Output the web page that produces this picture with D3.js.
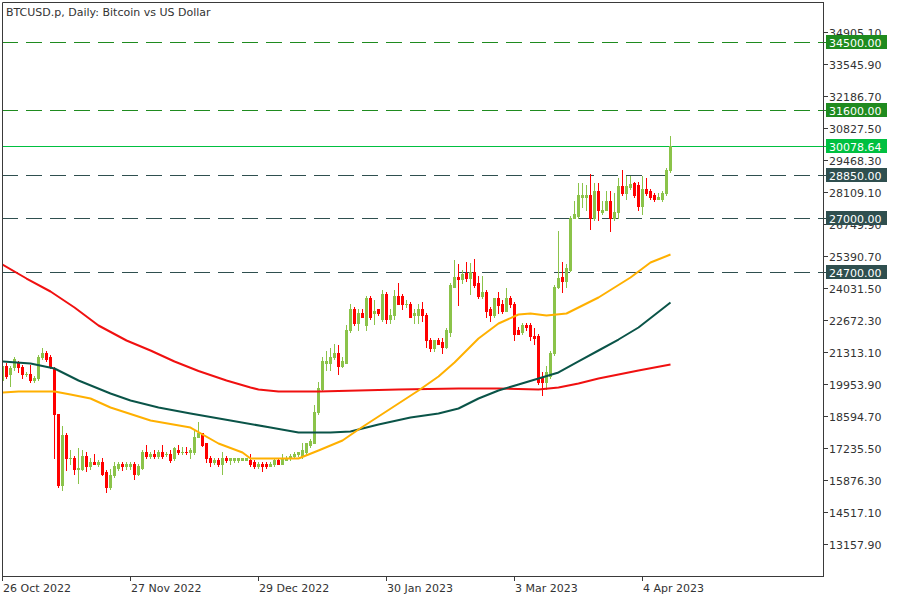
<!DOCTYPE html>
<html><head><meta charset="utf-8">
<script src="https://cdn.jsdelivr.net/npm/d3@7"></script>
<style>
body{margin:0;background:#fff}
svg{display:block}
text{font-family:"DejaVu Sans",sans-serif;font-size:11px}
</style>
</head><body>
<svg id="chart" width="900" height="600"></svg>
<script>
// ---- data (daily candles from 26 Oct 2022 to 11 Apr 2023) ----
const startDay = "2022-10-26";
const endDayExclusive = "2023-04-12";
const openP = [
20166,20719,20379,20676,20888,20676,20379,20421,20124,20209,
21101,21313,21101,20634,18680,15664,17830,16811,16811,16386,
16386,16896,16513,16683,16598,16683,16258,15579,16089,16428,
16598,16471,16471,16598,16173,16428,17108,16896,17023,16896,
17108,16981,17023,16811,17193,17066,17108,17066,17108,17745,
17873,17448,16853,16641,16768,16598,16853,16726,16768,16768,
16768,16768,16768,16683,16471,16598,16598,16513,16598,16768,
16598,16768,16853,16896,16981,16938,17066,17363,17490,18807,
19742,20888,20888,21143,21313,20719,20888,22248,23182,22545,
23012,22460,23607,23012,23140,22757,23777,22757,22885,23692,
23734,23352,23394,22885,22885,23182,22927,21865,21483,21865,
21738,21526,22205,24116,24541,24456,24711,24498,24753,24244,
23734,23862,23140,22885,23607,23394,23097,23607,23394,22248,
22163,22460,22460,22035,21993,20251,20081,20336,21271,24074,
24541,24371,24838,27047,27132,27939,27897,27982,27005,28152,
27260,27387,27769,27005,27260,28364,28067,28322,28492,28407,
27515,28279,28152,27982,27854,27854,28067,29044];
const highP = [
20804,20846,20719,21101,20973,20761,20506,20761,20336,21186,
21483,21356,21228,20676,18722,18212,17873,17151,16938,17236,
17193,17066,16811,16981,16768,16811,16343,16386,16683,16683,
16641,16683,16641,16641,16556,17151,17363,17108,17151,17193,
17405,17108,17151,17278,17363,17278,17278,17236,18085,18382,
17915,17490,16896,16853,16811,17066,16896,16853,16853,16853,
16853,16853,16981,16768,16683,16641,16641,16641,16811,16811,
17023,16896,17023,17066,17108,17448,17490,17618,19104,20039,
21101,21356,21483,21653,21611,21143,22460,23394,23225,23182,
23140,23734,23734,23522,23182,23947,23862,23182,23947,24286,
23819,23522,23479,23182,23394,23437,22970,21908,21865,21908,
21908,22333,24244,25263,25051,24838,25178,25135,25305,24583,
24583,23947,23225,23649,23862,23522,24032,23692,23437,22375,
22545,22587,22545,22333,22120,20464,20719,21356,24159,26495,
25178,25093,27132,27769,28492,28492,28407,28874,28492,28492,
27769,28194,28152,28109,28704,29044,28831,28831,28534,28534,
28789,28746,28237,28109,28109,28152,29129,30530];
const lowP = [
20081,20209,19911,20591,20506,20209,20294,20039,20039,20124,
21058,20973,20634,16811,15579,15452,16343,16598,16173,15749,
16343,16301,16386,16556,16513,16131,15409,15536,16046,16343,
16343,16386,16386,15961,16131,16386,16811,16811,16811,16853,
16811,16896,16641,16726,17023,17023,17023,16811,17023,17703,
17321,16641,16471,16598,16513,16173,16683,16556,16641,16683,
16726,16726,16513,16428,16428,16301,16428,16471,16471,16556,
16556,16726,16726,16853,16938,16853,17023,17278,17448,18722,
19699,20591,20591,21016,20379,20676,20846,22205,22460,22290,
22800,22290,22757,22503,22927,22672,22545,22545,22715,23352,
23182,23225,22800,22545,22545,22630,21526,21398,21398,21653,
21313,21483,21993,24074,23310,24286,24371,23819,24116,23607,
23607,22800,22672,22842,22970,23012,23055,23225,21823,22078,
22120,22248,21823,21695,19996,19487,19784,20251,21186,24032,
23862,24074,24796,27005,27047,27472,27345,26538,26920,26920,
27217,27345,26453,26920,27047,27982,27854,28279,27897,27345,
27217,27982,27854,27727,27812,27727,28024,29001];
const closeP = [
20719,20336,20634,21058,20676,20379,20421,20124,20251,21143,
21313,21058,20676,18680,15664,17830,16811,16853,16386,16428,
16896,16513,16683,16598,16683,16173,15579,16089,16471,16556,
16471,16556,16598,16173,16471,17108,16896,17023,16896,17108,
16938,17023,16768,17236,17066,17108,17066,17193,17745,17873,
17363,16811,16641,16768,16556,16853,16726,16811,16811,16811,
16811,16811,16598,16471,16598,16513,16513,16598,16726,16598,
16811,16853,16896,17023,17066,17151,17448,17533,18807,19826,
20931,20931,21143,21313,20719,20931,22290,23182,22545,23012,
22842,23607,22800,23097,22970,23777,22757,22927,23734,23394,
23352,23394,22842,22970,23182,22885,21823,21483,21823,21695,
21526,22248,24159,24541,24456,24668,24498,24753,24159,23734,
23862,23097,22885,23607,23310,23097,23607,23352,22120,22120,
22460,22375,21993,21950,20039,20039,20464,21271,24074,24498,
24371,24881,27047,27217,27982,27982,27982,27005,28152,27387,
27387,27769,27005,27302,28364,28067,28364,28449,27982,27515,
28279,28067,27939,27854,27897,28109,29044,30078.64];

// moving averages (bar index -> value)
const ma50Idx = [0,4,13,17,22,27,37,47,54,60,62,74,79,82,85,89,94,99,104,109,113,119,124,129,132,136,141,149,157,162,167];
const ma50Val = [19614,19657,19657,19529,19359,18977,18425,18127,17448,17066,16811,16811,17151,17363,17575,18042,18595,19147,19699,20294,20888,21908,22545,22927,22970,22885,22970,23649,24498,25135,25476];
const ma100Idx = [0,7,13,19,27,32,39,47,57,67,74,82,87,94,102,109,114,119,124,129,134,139,144,149,154,159,167];
const ma100Val = [20931,20846,20634,20124,19572,19274,18977,18722,18425,18127,17915,17915,17958,18255,18552,18722,18934,19359,19699,19954,20209,20464,20931,21398,21865,22375,23437];
const ma200Idx = [0,6,12,18,24,31,37,43,49,56,62,64,69,79,89,99,114,124,134,139,144,149,154,159,167];
const ma200Val = [25051,24456,23904,23225,22460,21823,21398,20931,20527,20124,19826,19742,19657,19657,19699,19742,19784,19784,19742,19826,19996,20209,20379,20549,20804];

const levelValues = [34500, 31600, 28850, 27000, 24700];
const levelColors = ["#1f8b1f","#1f8b1f","#2f4f4f","#2f4f4f","#2f4f4f"];
const currentPrice = 30078.64;

const yTickValues = [13157.90,14517.10,15876.30,17235.50,18594.70,19953.90,21313.10,22672.30,24031.50,25390.70,26749.90,28109.10,29468.30,30827.50,32186.70,33545.90,34905.10];
const xTickDates = ["2022-10-26","2022-11-27","2022-12-29","2023-01-30","2023-03-03","2023-04-04"];
const titleText = "BTCUSD.p, Daily:  Bitcoin vs US Dollar";

// ---- chart ----
const svg = d3.select("#chart");
const parse = d3.utcParse("%Y-%m-%d");
const dates = d3.utcDay.range(parse(startDay), parse(endDayExclusive));
const frameL = 2, frameR = 823, frameT = 2, frameB = 576;

const x = d3.scaleUtc()
  .domain([parse(startDay), d3.utcDay.offset(parse(startDay), 205)])
  .range([2.5, 822.5]);
const y = d3.scaleLinear().domain([11798.7, 36179.35]).range([576.5, 2.5]);

const bull = "#8bc34a", bear = "#ff0000", axisCol = "#3a3a3a", textCol = "#333";

svg.append("rect").attr("width",900).attr("height",600).attr("fill","#fff");

const clip = svg.append("defs").append("clipPath").attr("id","plot")
  .append("rect").attr("x",frameL+1).attr("y",frameT+1)
  .attr("width",frameR-frameL-1).attr("height",frameB-frameT-1);
const plot = svg.append("g").attr("clip-path","url(#plot)");

// level lines
levelValues.forEach((v,i)=>{
  const yy = Math.floor(y(v))+0.5;
  plot.append("line").attr("x1",frameL).attr("x2",frameR).attr("y1",yy).attr("y2",yy)
    .attr("stroke",levelColors[i]).attr("stroke-width",1).attr("stroke-dasharray","16,8");
});
// current price line
{
  const yy = Math.floor(y(currentPrice))+0.5;
  plot.append("line").attr("x1",frameL).attr("x2",frameR).attr("y1",yy).attr("y2",yy)
    .attr("stroke","#00c040").attr("stroke-width",1);
}

// candles
const candles = dates.map((d,i)=>({d,o:openP[i],h:highP[i],l:lowP[i],c:closeP[i]}));
const cg = plot.append("g");
candles.forEach(k=>{
  const xc = Math.round(x(k.d)-0.5);
  const col = k.c >= k.o ? bull : bear;
  const yH = Math.round(y(k.h)), yL = Math.round(y(k.l));
  const yT = Math.round(y(Math.max(k.o,k.c))), yB = Math.round(y(Math.min(k.o,k.c)));
  cg.append("rect").attr("x",xc).attr("y",yH).attr("width",1).attr("height",Math.max(1,yL-yH+1)).attr("fill",col);
  cg.append("rect").attr("x",xc-1).attr("y",yT).attr("width",3).attr("height",Math.max(1,yB-yT+1)).attr("fill",col);
});

// moving averages
function maLine(idx, vals, color){
  const pts = idx.map((ix,j)=>[x(dates[ix]), y(vals[j])]);
  plot.append("path").attr("d", d3.line()(pts)).attr("fill","none")
    .attr("stroke",color).attr("stroke-width",2).attr("stroke-linejoin","round");
}
maLine(ma200Idx, ma200Val, "#f01010");
maLine(ma100Idx, ma100Val, "#0a5448");
maLine(ma50Idx, ma50Val, "#ffb000");

// frame
svg.append("path").attr("d",`M${frameL+0.5},${frameB+0.5}V${frameT+0.5}H${frameR+0.5}`)
  .attr("fill","none").attr("stroke",axisCol);
svg.append("line").attr("x1",frameR+0.5).attr("x2",frameR+0.5).attr("y1",frameT).attr("y2",frameB+1).attr("stroke",axisCol);
svg.append("line").attr("x1",frameL).attr("x2",frameR+1).attr("y1",frameB+0.5).attr("y2",frameB+0.5).attr("stroke",axisCol);

// title
svg.append("text").attr("x",6).attr("y",16).attr("fill",textCol).text(titleText);

// y axis (right)
const yAxisG = svg.append("g");
yTickValues.forEach(v=>{
  const yy = Math.floor(y(v))+0.5;
  yAxisG.append("line").attr("x1",frameR+1).attr("x2",frameR+5).attr("y1",yy).attr("y2",yy).attr("stroke",axisCol);
  yAxisG.append("text").attr("x",829).attr("y",yy+4.5).attr("fill",textCol).text(v.toFixed(2));
});

// level labels
const labelsG = svg.append("g");
function priceTag(v, color){
  const yy = Math.floor(y(v))+0.5;
  labelsG.append("line").attr("x1",frameR+1).attr("x2",frameR+4).attr("y1",yy).attr("y2",yy).attr("stroke",color);
  labelsG.append("rect").attr("x",826).attr("y",Math.floor(y(v))-7).attr("width",61).attr("height",14).attr("fill",color);
  labelsG.append("text").attr("x",829).attr("y",yy+4.5).attr("fill","#fff").text(v.toFixed(2));
}
levelValues.forEach((v,i)=>priceTag(v, levelColors[i]));
priceTag(currentPrice, "#00c040");

// x axis (bottom)
const fmt = d3.utcFormat("%-d %b %Y");
xTickDates.forEach(s=>{
  const d = parse(s);
  const xx = Math.round(x(d)-0.5)+0.5;
  svg.append("line").attr("x1",xx).attr("x2",xx).attr("y1",frameB).attr("y2",frameB+5).attr("stroke",axisCol);
  svg.append("text").attr("x",xx+0.5).attr("y",592).attr("fill",textCol).text(fmt(d));
});
</script>
</body></html>
